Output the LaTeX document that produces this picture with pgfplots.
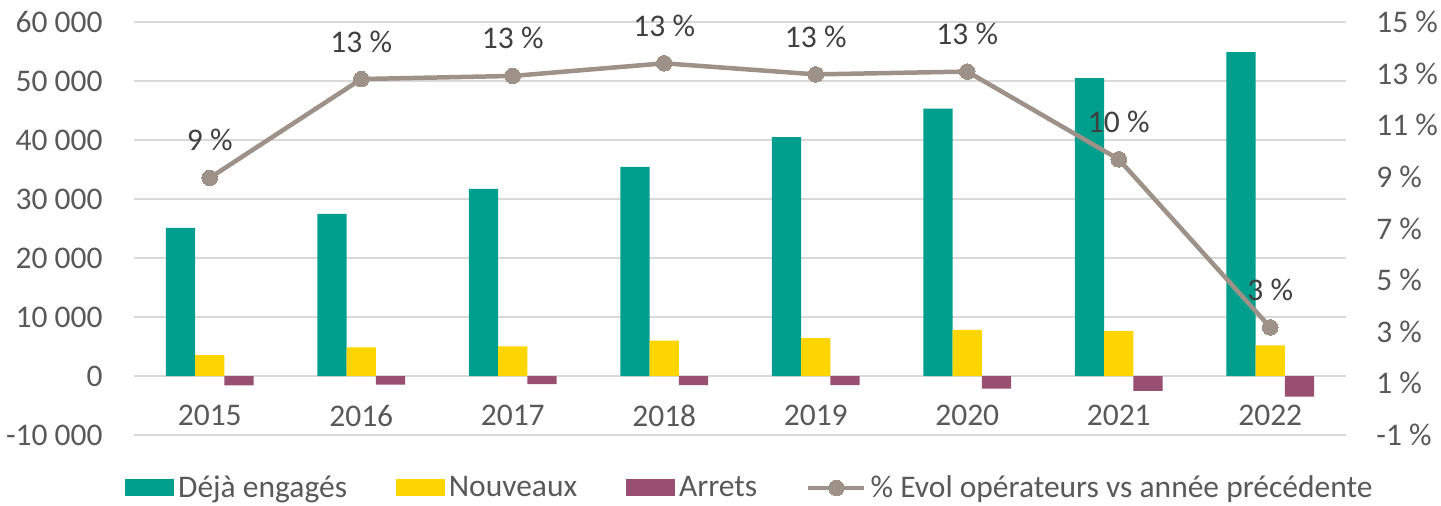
\documentclass[border=0pt]{standalone}
\usepackage{pgfplots}
\pgfplotsset{compat=1.18}
\usepackage{fontspec}
\setmainfont{Carlito}

\definecolor{deja}{HTML}{009E8C}
\definecolor{nouv}{HTML}{FFD500}
\definecolor{arret}{HTML}{984F72}
\definecolor{evol}{HTML}{9E9187}
\definecolor{txt}{HTML}{595959}
\definecolor{lbl}{HTML}{404040}
\definecolor{grille}{HTML}{D9D9D9}

\newcommand{\chartfont}{\fontsize{15.75}{19}\selectfont}

\pgfplotsset{
  base/.style={
    scale only axis, width=606pt, height=206.5pt,
    xmin=-0.5, xmax=7.5,
    axis line style={draw=none},
    major tick length=0pt,
    scaled y ticks=false,
    tick label style={font=\chartfont, text=txt},
  },
  evol legend/.style={
    legend image code/.code={\draw[mark repeat=2, mark phase=2, ##1]
      plot coordinates {(0pt,0pt) (14pt,0pt) (28pt,0pt)};}
  },
}

\begin{document}
\begin{tikzpicture}[font=\chartfont]
\useasboundingbox (-67pt,-35pt) rectangle (653.5pt,217.5pt);

\begin{axis}[base,
  ymin=-10000, ymax=60000,
  ytick={-10000,0,10000,20000,30000,40000,50000,60000},
  yticklabels={-10 000,0,10 000,20 000,30 000,40 000,50 000,60 000},
  ymajorgrids, grid style={grille, line width=0.75pt},
  xtick={0,1,2,3,4,5,6,7},
  xticklabels={2015,2016,2017,2018,2019,2020,2021,2022},
  xticklabel style={anchor=north, inner sep=0pt, yshift=15pt},
  yticklabel style={anchor=east, inner sep=0pt, xshift=-15.5pt},
  ybar=0pt, bar width=14.65pt,
]
% Déjà engagés
\addplot[fill=deja, draw=none] coordinates {
  (0,25100) (1,27500) (2,31700) (3,35450) (4,40500) (5,45300) (6,50500) (7,54900)
};
% Nouveaux
\addplot[fill=nouv, draw=none] coordinates {
  (0,3560) (1,4860) (2,5030) (3,5990) (4,6440) (5,7800) (6,7630) (7,5200)
};
% Arrets
\addplot[fill=arret, draw=none] coordinates {
  (0,-1580) (1,-1470) (2,-1360) (3,-1530) (4,-1530) (5,-2150) (6,-2540) (7,-3500)
};
\end{axis}

\begin{axis}[base,
  ymin=-1, ymax=15,
  ytick={-1,1,3,5,7,9,11,13,15},
  yticklabels={-1 \%,1 \%,3 \%,5 \%,7 \%,9 \%,11 \%,13 \%,15 \%},
  yticklabel pos=right,
  yticklabel style={anchor=west, inner sep=0pt, xshift=15pt},
  xtick=\empty,
  legend columns=4,
  legend style={at={(0.509,-0.128)}, anchor=center, draw=none, fill=none,
    font=\chartfont, text=txt,
    /tikz/every even column/.append style={column sep=22.5pt}},
]
\addlegendimage{legend image code/.code={\fill[deja] (0pt,-4pt) rectangle (24pt,4pt);}}
\addlegendentry{Déjà engagés}
\addlegendimage{legend image code/.code={\fill[nouv] (0pt,-4pt) rectangle (24pt,4pt);}}
\addlegendentry{Nouveaux}
\addlegendimage{legend image code/.code={\fill[arret] (0pt,-4pt) rectangle (24pt,4pt);}}
\addlegendentry{Arrets}
\addplot[evol, line width=2.25pt, mark=*, mark size=3.9pt,
  mark options={evol, line width=0pt},
  nodes near coords, point meta=explicit symbolic,
  nodes near coords style={font=\chartfont, text=lbl, anchor=base, yshift=13.5pt},
  evol legend]
coordinates {
  (0,8.96) [9 \%]
  (1,12.79) [13 \%]
  (2,12.91) [13 \%]
  (3,13.40) [13 \%]
  (4,12.97) [13 \%]
  (5,13.08) [13 \%]
  (6,9.68) [10 \%]
  (7,3.17) [3 \%]
};
\addlegendentry{\% Evol opérateurs vs année précédente}
\end{axis}
\end{tikzpicture}
\end{document}
